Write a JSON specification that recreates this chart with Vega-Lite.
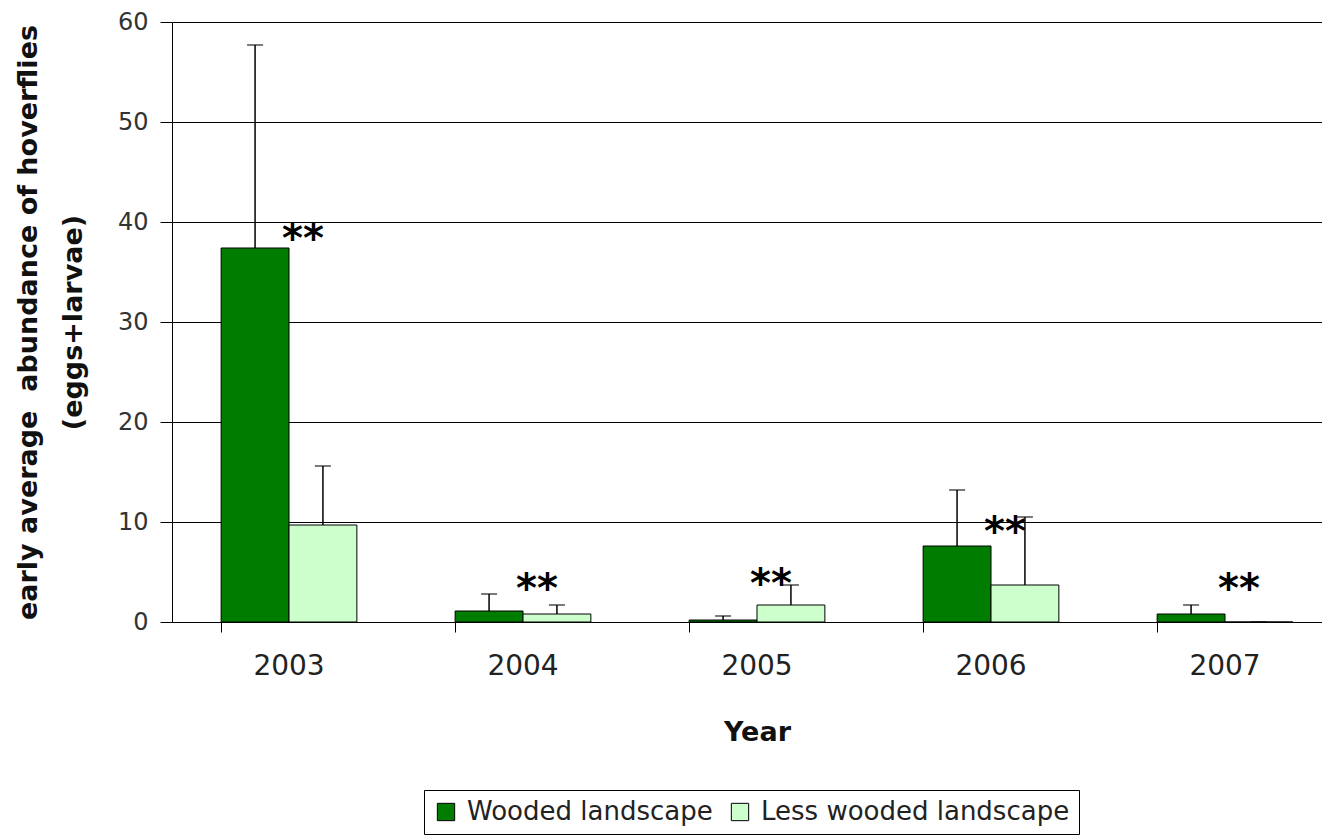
{
  "$schema": "https://vega.github.io/schema/vega-lite/v6.json",
  "autosize": {"type": "none"},
  "width": 1150,
  "height": 600,
  "padding": {"left": 172, "top": 22, "right": 0, "bottom": 213},
  "background": "white",
  "config": {
    "font": "DejaVu Sans",
    "view": {"stroke": null}
  },
  "datasets": {
    "bars": [
      {"year": "2003", "group": "Wooded landscape", "value": 37.4, "upper": 57.7},
      {"year": "2003", "group": "Less wooded landscape", "value": 9.7, "upper": 15.6},
      {"year": "2004", "group": "Wooded landscape", "value": 1.1, "upper": 2.8},
      {"year": "2004", "group": "Less wooded landscape", "value": 0.8, "upper": 1.7},
      {"year": "2005", "group": "Wooded landscape", "value": 0.2, "upper": 0.6},
      {"year": "2005", "group": "Less wooded landscape", "value": 1.7, "upper": 3.7},
      {"year": "2006", "group": "Wooded landscape", "value": 7.6, "upper": 13.2},
      {"year": "2006", "group": "Less wooded landscape", "value": 3.7, "upper": 10.5},
      {"year": "2007", "group": "Wooded landscape", "value": 0.8, "upper": 1.7},
      {"year": "2007", "group": "Less wooded landscape", "value": 0, "upper": 0}
    ],
    "stars": [
      {"year": "2003", "group": "Less wooded landscape", "v": 39.0, "label": "**"},
      {"year": "2004", "group": "Less wooded landscape", "v": 4.0, "label": "**"},
      {"year": "2005", "group": "Less wooded landscape", "v": 4.5, "label": "**"},
      {"year": "2006", "group": "Less wooded landscape", "v": 9.7, "label": "**"},
      {"year": "2007", "group": "Less wooded landscape", "v": 4.0, "label": "**"}
    ]
  },
  "encoding": {
    "x": {
      "field": "year", "type": "nominal",
      "scale": {"range": [0, 1170], "paddingInner": 0.42, "paddingOuter": 0.21},
      "axis": {
        "title": "Year", "labelAngle": 0, "bandPosition": 0,
        "domainColor": "black", "tickColor": "black", "tickSize": 10,
        "labelFontSize": 28, "labelColor": "#222", "labelPadding": 20,
        "titleFontSize": 27, "titleFontWeight": "bold", "titleColor": "#111", "titlePadding": 39
      }
    },
    "xOffset": {
      "field": "group", "type": "nominal",
      "scale": {"domain": ["Wooded landscape", "Less wooded landscape"], "paddingInner": 0, "paddingOuter": 0}
    }
  },
  "layer": [
    {
      "data": {"name": "bars"},
      "mark": {"type": "rule", "color": "black", "strokeWidth": 1.5},
      "encoding": {
        "y": {"field": "value", "type": "quantitative"},
        "y2": {"field": "upper"}
      }
    },
    {
      "data": {"name": "bars"},
      "mark": {"type": "tick", "color": "black", "size": 16, "thickness": 1.5, "orient": "horizontal"},
      "encoding": {
        "y": {"field": "upper", "type": "quantitative"}
      }
    },
    {
      "data": {"name": "bars"},
      "mark": {"type": "bar", "stroke": "black", "strokeWidth": 1},
      "encoding": {
        "y": {
          "field": "value", "type": "quantitative",
          "scale": {"domain": [0, 60]},
          "axis": {
            "values": [0, 10, 20, 30, 40, 50, 60],
            "title": ["early average\u00a0 abundance of hoverflies", "(eggs+larvae)"],
            "titleFontSize": 27, "titleFontWeight": "bold", "titleColor": "#111", "titleLineHeight": 45, "titlePadding": 30,
            "labelFontSize": 24, "labelColor": "#333", "labelPadding": 12,
            "domainColor": "black", "tickColor": "black", "tickSize": 12,
            "grid": true, "gridColor": "black", "gridWidth": 1.2
          }
        },
        "color": {
          "field": "group", "type": "nominal",
          "scale": {"domain": ["Wooded landscape", "Less wooded landscape"], "range": ["#007d00", "#ccffcc"]},
          "legend": {
            "title": null, "orient": "none", "direction": "horizontal",
            "legendX": 252, "legendY": 768,
            "strokeColor": "black", "padding": 9,
            "symbolType": "square", "symbolSize": 300,
            "symbolStrokeColor": "black", "symbolStrokeWidth": 1,
            "labelFontSize": 26, "labelColor": "#222", "labelOffset": 8, "labelLimit": 0, "columnPadding": 14
          }
        }
      }
    },
    {
      "data": {"name": "stars"},
      "mark": {"type": "text", "fontSize": 40, "fontWeight": "bold", "color": "black", "baseline": "middle", "dx": -20, "dy": 8},
      "encoding": {
        "y": {"field": "v", "type": "quantitative"},
        "text": {"field": "label"}
      }
    }
  ]
}
